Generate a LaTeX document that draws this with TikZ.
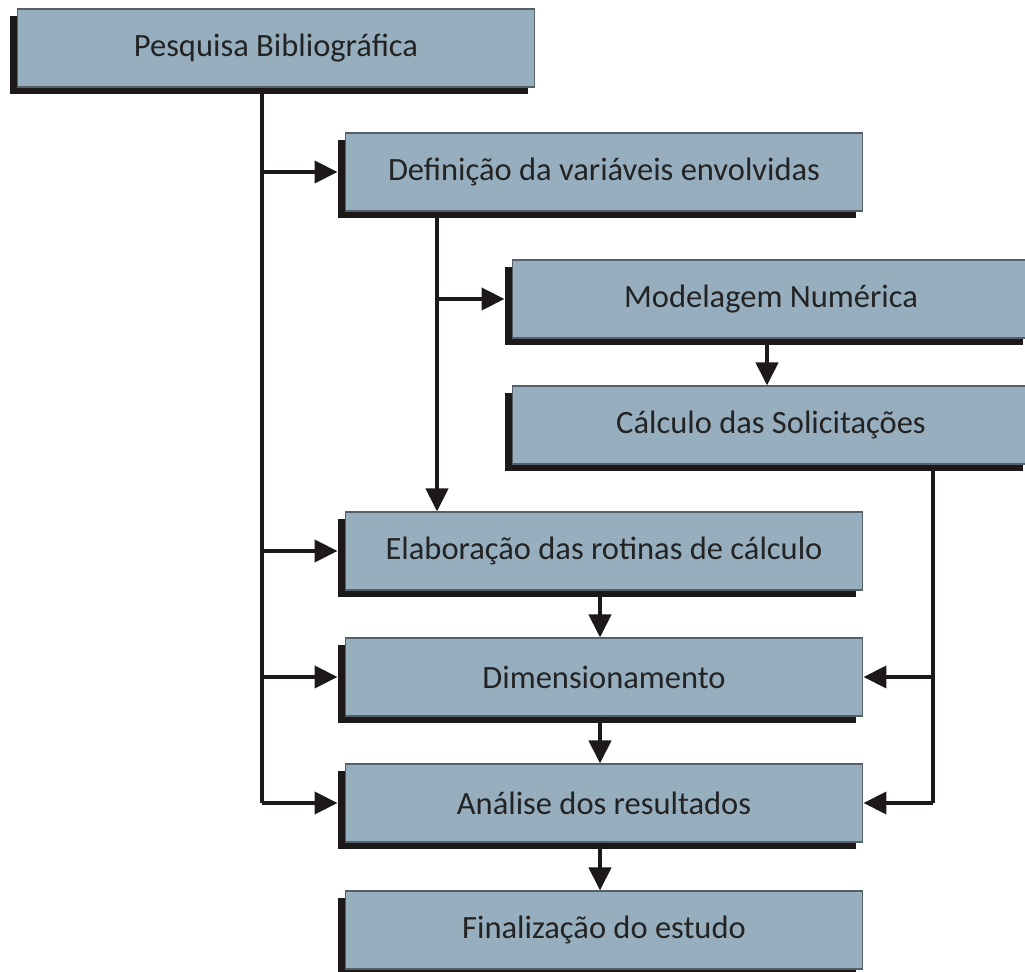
\documentclass[tikz,border=0pt]{standalone}
\usepackage{fontspec}
\setmainfont{Carlito}
\usepackage{tikz}
\usetikzlibrary{arrows.meta,positioning,calc,shadows}
\usepackage{xcolor}
\definecolor{stageblue}{RGB}{150,174,190}
\definecolor{stageedge}{RGB}{85,95,105}
\definecolor{stagetext}{RGB}{35,35,35}
\definecolor{flowblack}{RGB}{30,25,25}
\tikzset{
    stage/.style={rectangle, draw=stageedge, fill=stageblue, line width=0.6pt,
        minimum width=10.36cm, minimum height=1.56cm, inner sep=0pt,
        text=stagetext, font=\fontsize{18.5}{22}\selectfont,
        drop shadow={shadow xshift=-1.4mm, shadow yshift=-1.4mm, fill=flowblack, opacity=1}},
    flow/.style={line width=2.4pt, draw=flowblack},
    flowA/.style={flow, -{Triangle[length=4.6mm, width=4.4mm]}},
    flowL/.style={flowA, shorten >=1.4mm},
}
\begin{document}
\begin{tikzpicture}[x=0.02cm, y=-0.02cm]
    \useasboundingbox (0,0) rectangle (1025,972);
    % Stages
    \node[stage] (pesq)  at (276,48)  {Pesquisa Bibliográfica};
    \node[stage] (defin) at (604,172) {Definição da variáveis envolvidas};
    \node[stage] (model) at (771,299) {Modelagem Numérica};
    \node[stage] (calc)  at (771,425) {Cálculo das Solicitações};
    \node[stage] (elab)  at (604,551) {Elaboração das rotinas de cálculo};
    \node[stage] (dimen) at (604,677) {Dimensionamento};
    \node[stage] (anal)  at (604,803) {Análise dos resultados};
    \node[stage] (final) at (604,930) {Finalização do estudo};
    % Trunk lines
    \coordinate (trunkA) at (262,0);
    \coordinate (trunkB) at (437,0);
    \coordinate (trunkC) at (933,0);
    % Left trunk from the bibliography
    \draw[flow] (pesq.south -| trunkA) -- (anal.west -| trunkA);
    \foreach \s in {defin,elab,dimen,anal} {
        \draw[flowL] (\s.west -| trunkA) -- (\s.west);
    }
    % Inner trunk from the variables
    \draw[flowA] (defin.south -| trunkB) -- (elab.north -| trunkB);
    \draw[flowL] (model.west -| trunkB) -- (model.west);
    % Right trunk from the loads
    \draw[flow] (calc.south -| trunkC) -- (anal.east -| trunkC);
    \foreach \s in {dimen,anal} {
        \draw[flowA] (\s.east -| trunkC) -- (\s.east);
    }
    % Straight steps
    \draw[flowA] (model.south -| 767,0) -- (calc.north -| 767,0);
    \foreach \a/\b in {elab/dimen,dimen/anal,anal/final} {
        \draw[flowA] (\a.south -| 600,0) -- (\b.north -| 600,0);
    }
\end{tikzpicture}
\end{document}
